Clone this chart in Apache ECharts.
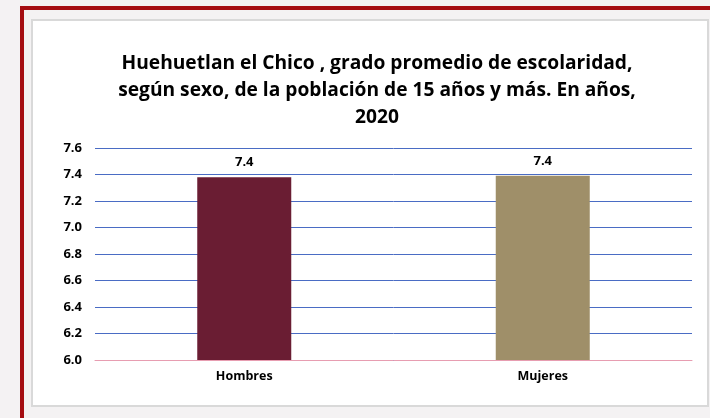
<!DOCTYPE html>
<html lang="en">

<head>
  <script src="https://cdn.jsdelivr.net/npm/echarts@6.0.0/dist/echarts.min.js"></script>
  <meta charset="UTF-8">
  <style>
    body { margin: 0; }
  </style>
</head>

<body>
  <div id="escolaridadChart" style="width: 710px;height:418px;"></div>

  <script type="text/javascript">

    var categories = ['Hombres', 'Mujeres']
    var values = [7.38, 7.39]
    var barColors = ['#6A1D33', '#9F8F69']
    var titleText = 'Huehuetlan el Chico , grado promedio de escolaridad,\nsegún sexo, de la población de 15 años y más. En años,\n2020'

    function createEscolaridadChart() {
        const chart = echarts.init(document.getElementById('escolaridadChart'));
        const boldText = {
            fontFamily: 'Open Sans',
            fontWeight: 'bold',
            fontSize: 12.5,
            color: '#000'
        }

        const option = {
            backgroundColor: '#f4f2f3',
            animation: false,
            graphic: [
                // red frame along the top and left
                { type: 'rect', shape: { x: 20, y: 6, width: 690, height: 4 }, style: { fill: '#a50d12' }, z: -2 },
                { type: 'rect', shape: { x: 20, y: 6, width: 4, height: 412 }, style: { fill: '#a50d12' }, z: -2 },
                // white chart area
                { type: 'rect', shape: { x: 32, y: 20, width: 676, height: 386 }, style: { fill: '#fff', stroke: '#d9d9d9', lineWidth: 2 }, z: -1 }
            ],
            title: {
                text: titleText,
                left: 372,
                top: 45,
                textAlign: 'center',
                textStyle: {
                    fontFamily: 'Open Sans',
                    fontWeight: 'bold',
                    fontSize: 19.2,
                    lineHeight: 27,
                    color: '#000'
                }
            },
            grid: {
                left: 95,
                right: 18,
                top: 148,
                bottom: 58
            },
            xAxis: {
                type: 'category',
                data: categories,
                axisLine: { lineStyle: { color: '#e79db1', width: 1 } },
                axisTick: { show: false },
                axisLabel: { ...boldText, margin: 10 }
            },
            yAxis: {
                type: 'value',
                min: 6,
                max: 7.6,
                interval: 0.2,
                axisLine: { show: false },
                axisTick: { show: false },
                axisLabel: {
                    ...boldText,
                    fontSize: 13,
                    margin: 13,
                    formatter: v => v.toFixed(1)
                },
                splitLine: { lineStyle: { color: '#4a6cc4', width: 1 } }
            },
            series: [{
                type: 'bar',
                barWidth: 94,
                data: values.map((v, i) => ({ value: v, itemStyle: { color: barColors[i] } })),
                label: {
                    show: true,
                    position: 'top',
                    distance: 8,
                    ...boldText,
                    fontSize: 13,
                    formatter: p => p.value.toFixed(1)
                }
            }]
        };

        chart.setOption(option);
    }
    createEscolaridadChart();
  </script>
</body>

</html>
